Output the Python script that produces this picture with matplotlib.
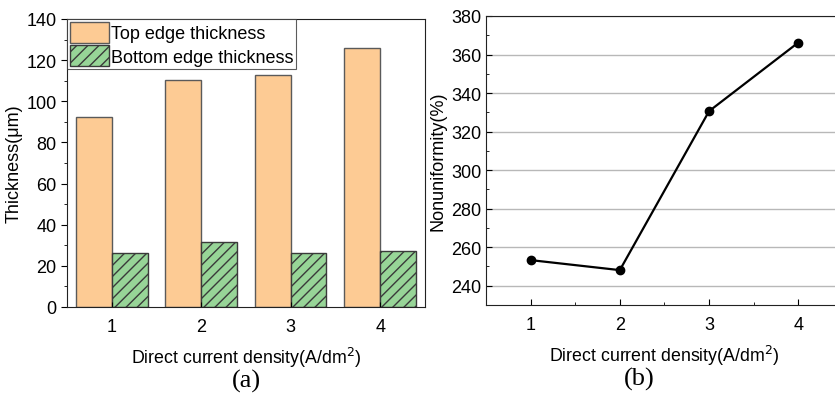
import matplotlib.pyplot as plt
import numpy as np

plt.rcParams['font.family'] = ['Liberation Sans', 'DejaVu Sans']

density = [1, 2, 3, 4]
top_edge = [92.3, 110.5, 112.7, 126.0]
bottom_edge = [26.0, 31.6, 26.0, 27.0]
nonuniformity = [253.3, 248.1, 330.6, 366.2]

fig = plt.figure(figsize=(8.35, 4.02), dpi=100)

# ---- (a) bar chart
ax1 = fig.add_axes([0.0802, 0.234, 0.4287, 0.7164])
x = np.array(density)
w = 0.4
ax1.bar(x - w / 2, top_edge, w, color="#FDCB94", edgecolor="#5a5a5a", linewidth=1,
        label="Top edge thickness")
ax1.bar(x + w / 2, bottom_edge, w, color="#97D597", edgecolor="#3a3a3a", linewidth=1,
        hatch="///", label="Bottom edge thickness")
ax1.set_xlim(0.5, 4.5)
ax1.set_ylim(0, 140)
ax1.set_xticks(density)
ax1.set_yticks(np.arange(0, 141, 20))
ax1.set_yticks(np.arange(10, 140, 20), minor=True)
ax1.tick_params(axis="y", which="both", direction="out", labelsize=13)
ax1.tick_params(axis="y", which="major", length=4)
ax1.tick_params(axis="y", which="minor", length=2.5)
ax1.tick_params(axis="x", direction="in", labelsize=13, pad=8)
ax1.set_xlabel("Direct current density(A/dm$^2$)", fontsize=12.8, labelpad=7)
ax1.set_ylabel("Thickness(μm)", fontsize=13, labelpad=3)
leg = ax1.legend(loc="upper left", fontsize=13, borderaxespad=0, frameon=True,
                 fancybox=False, edgecolor="#333333", handlelength=2.2, handleheight=1.4,
                 handletextpad=0.1, borderpad=0.15, labelspacing=0.15)
leg.get_frame().set_linewidth(0.8)
for s in ax1.spines.values():
    s.set_color("#222222")
ax1.text(0.5, -0.255, "(a)", transform=ax1.transAxes, ha="center", va="center",
         fontsize=19, family="Liberation Serif")

# ---- (b) line chart
ax2 = fig.add_axes([0.582, 0.2388, 0.4275, 0.719])
ax2.plot(density, nonuniformity, color="black", marker="o", markersize=6, linewidth=1.6)
ax2.set_xlim(0.5, 4.5)
ax2.set_ylim(230, 380)
ax2.set_xticks(density)
ax2.set_xticks([1.5, 2.5, 3.5], minor=True)
ax2.set_yticks(np.arange(240, 381, 20))
ax2.set_yticks(np.arange(230, 381, 10), minor=True)
ax2.grid(axis="y", which="major", color="#b8b8b8", linewidth=1)
ax2.set_axisbelow(True)
ax2.tick_params(which="both", direction="in", labelsize=13)
ax2.tick_params(which="major", length=4)
ax2.tick_params(which="minor", length=2.5)
ax2.tick_params(axis="x", pad=8)
ax2.spines["right"].set_visible(False)
for s in ax2.spines.values():
    s.set_color("#222222")
ax2.set_xlabel("Direct current density(A/dm$^2$)", fontsize=12.8, labelpad=7)
ax2.set_ylabel("Nonuniformity(%)", fontsize=13, labelpad=3)
ax2.text(0.43, -0.255, "(b)", transform=ax2.transAxes, ha="center", va="center",
         fontsize=19, family="Liberation Serif")

fig.savefig("out.png", dpi=100)
